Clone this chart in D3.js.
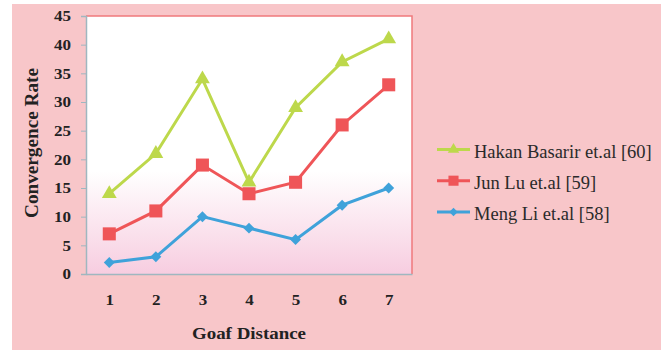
<!DOCTYPE html>
<html><head><meta charset="utf-8">
<script src="https://cdn.jsdelivr.net/npm/d3@7"></script>
<style>body{margin:0;background:#fff}svg{display:block}
.serif{font-family:'Liberation Serif','Times New Roman',serif}</style>
</head><body>
<svg id="c" width="661" height="350"></svg>
<script>
const categories = ["1","2","3","4","5","6","7"];
const hakan = [14, 21, 34, 16, 29, 37, 41];
const junLu = [7, 11, 19, 14, 16, 26, 33];
const mengLi = [2, 3, 10, 8, 6, 12, 15];
const yTicks = [0,5,10,15,20,25,30,35,40,45];
const seriesNames = ["Hakan Basarir et.al [60]", "Jun Lu et.al [59]", "Meng Li et.al [58]"];

const series = [
  {name: seriesNames[0], values: hakan, color: "#bdd84b", marker: d3.symbolTriangle, size: 95, rot: 0},
  {name: seriesNames[1], values: junLu, color: "#ef5558", marker: d3.symbolSquare, size: 170, rot: 0},
  {name: seriesNames[2], values: mengLi, color: "#3fa2da", marker: d3.symbolSquare, size: 60, rot: 45}
];

const svg = d3.select("#c");
svg.append("rect").attr("x",12).attr("y",4).attr("width",649).attr("height",346).attr("fill","#f8c6c9");

const m = {left: 86, top: 16, right: 412, bottom: 274};
const x = d3.scalePoint().domain(categories).range([m.left, m.right]).padding(0.5);
const y = d3.scaleLinear().domain([0,45]).range([m.bottom, m.top]);

const defs = svg.append("defs");
const g = defs.append("linearGradient").attr("id","pg").attr("x1",0).attr("y1",0).attr("x2",0).attr("y2",1);
g.append("stop").attr("offset","0.6").attr("stop-color","#ffffff");
g.append("stop").attr("offset","1").attr("stop-color","#f7cde0");

svg.append("rect").attr("x",m.left).attr("y",m.top).attr("width",m.right-m.left).attr("height",m.bottom-m.top)
  .attr("fill","url(#pg)");
svg.append("path").attr("d",`M${m.left},${m.top}H${m.right}V${m.bottom}`).attr("fill","none").attr("stroke","#f07a7c").attr("stroke-width",1.5);

function styleTicks(sel){
  sel.attr("font-family",null);
  sel.selectAll("text").attr("class","serif").style("font-weight","bold").style("font-size","15px").attr("fill","#222")
    .attr("textLength", d => String(d).length*8.5).attr("lengthAdjust","spacingAndGlyphs");
}

const yAxis = svg.append("g").attr("transform",`translate(${m.left},0)`)
  .call(d3.axisLeft(y).tickValues(yTicks).tickSize(5).tickPadding(10));
yAxis.select(".domain").attr("stroke","#9fb7c0").attr("stroke-width",1.5);
yAxis.selectAll(".tick line").attr("stroke","#9fb7c0");
styleTicks(yAxis);

const xAxis = svg.append("g").attr("transform",`translate(0,${m.bottom})`)
  .call(d3.axisBottom(x).tickSize(0).tickPadding(20));
xAxis.select(".domain").attr("stroke","#9fb7c0").attr("stroke-width",1.5);
styleTicks(xAxis);

svg.append("text").attr("class","serif").attr("x",249).attr("y",339).attr("text-anchor","middle")
  .style("font-weight","bold").style("font-size","17px").attr("fill","#222")
  .attr("textLength",114).attr("lengthAdjust","spacingAndGlyphs")
  .text("Goaf Distance");
svg.append("text").attr("class","serif").attr("transform","translate(38,143) rotate(-90)").attr("text-anchor","middle")
  .style("font-weight","bold").style("font-size","18px").attr("fill","#222")
  .attr("textLength",150).attr("lengthAdjust","spacingAndGlyphs")
  .text("Convergence Rate");

const line = d3.line().x((d,i)=>x(categories[i])).y(d=>y(d));
series.forEach(s => {
  svg.append("path").datum(s.values).attr("d",line).attr("fill","none").attr("stroke",s.color).attr("stroke-width",3);
  svg.append("g").selectAll("path").data(s.values).join("path")
    .attr("transform",(d,i)=>`translate(${x(categories[i])},${y(d)}) rotate(${s.rot})`)
    .attr("d",d3.symbol().type(s.marker).size(s.size)).attr("fill",s.color);
});

const leg = svg.append("g");
series.forEach((s,i) => {
  const ly = 149.5 + i*31.2;
  leg.append("line").attr("x1",437).attr("x2",470).attr("y1",ly).attr("y2",ly).attr("stroke",s.color).attr("stroke-width",3);
  leg.append("path").attr("transform",`translate(453.5,${ly}) rotate(${s.rot})`).attr("d",d3.symbol().type(s.marker).size(s.size*0.6)).attr("fill",s.color);
  leg.append("text").attr("class","serif").attr("x",474).attr("y",ly+8)
    .style("font-size","18.5px").attr("fill","#2a2a2a").text(s.name);
});
</script>
</body></html>
